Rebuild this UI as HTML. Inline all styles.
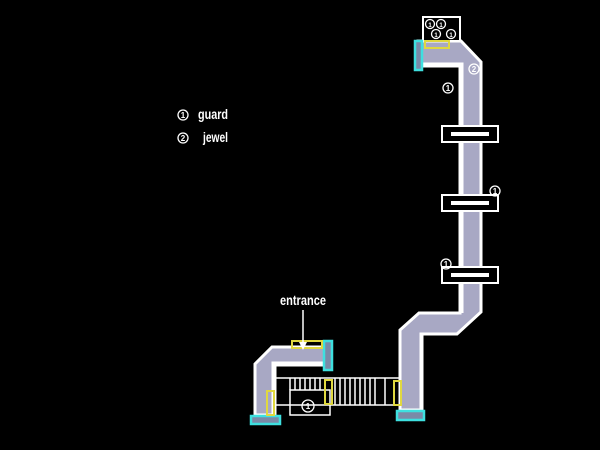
<!DOCTYPE html>
<html><head><style>html,body{margin:0;background:#000;width:600px;height:450px;overflow:hidden}</style></head><body>
<svg width="600" height="450" viewBox="0 0 600 450" xmlns="http://www.w3.org/2000/svg" font-family="Liberation Sans, sans-serif">
<rect width="600" height="450" fill="#000"/>
<g fill="#a8a8c4" stroke="#fff" stroke-width="3" stroke-linejoin="miter">
<polygon points="418,41 461,41 481,62 481,312 457,334 421,334 421,410 400,410 400,330 419,313 460,313 460,66 418,66"/>
<polygon points="272,347 325,347 325,365 275,365 275,415 255,415 255,364"/>
</g>
<!-- thicker inner white walls -->
<g fill="none" stroke="#fff" stroke-width="4">
<path d="M418,64.5 H461.5 V313 M421.5,410 V333"/>
<path d="M325,363.5 H273.5 V415"/>
</g>
<g fill="#000" stroke="#fff" stroke-width="2">
<rect x="442" y="126" width="56" height="16"/>
<rect x="442" y="195" width="56" height="16"/>
<rect x="442" y="267" width="56" height="16"/>
</g>
<g fill="#fff">
<rect x="451" y="132" width="38" height="4"/>
<rect x="451" y="201" width="38" height="4"/>
<rect x="451" y="273" width="38" height="4"/>
</g>
<rect x="423" y="17" width="37" height="24" fill="#000" stroke="#fff" stroke-width="2"/>
<g fill="none" stroke="#fff" stroke-width="1.5">
<rect x="275" y="378" width="125" height="27"/>
<rect x="290" y="390" width="40" height="25"/>
<path d="M290 378V390 M295 378V390 M300 378V390 M305 378V390 M310 378V390 M315 378V390 M320 378V390 M335 378V405 M340 378V405 M345 378V405 M350 378V405 M355 378V405 M360 378V405 M365 378V405 M370 378V405 M375 378V405 M385 378V405"/>
</g>
<g fill="#7a8aa8" stroke="#3ee0e0" stroke-width="2.5">
<rect x="251" y="416" width="29" height="8"/>
<rect x="324" y="341" width="8" height="29"/>
<rect x="397" y="411" width="27" height="9"/>
<rect x="415" y="41" width="7" height="29"/>
</g>
<g fill="none" stroke="#e0d840" stroke-width="2">
<rect x="292" y="341" width="30" height="7"/>
<rect x="267" y="391" width="7" height="24"/>
<rect x="325" y="380" width="7" height="24"/>
<rect x="394" y="381" width="7" height="24"/>
<rect x="425" y="41" width="24" height="7"/>
</g>
<g fill="none" stroke="#fff" stroke-width="1.3">
<circle cx="183" cy="115" r="5"/><circle cx="183" cy="138" r="5"/>
<circle cx="430" cy="24" r="4.5"/><circle cx="441" cy="24" r="4.5"/>
<circle cx="436" cy="34" r="4.5"/><circle cx="451" cy="34" r="4.5"/>
<circle cx="448" cy="88" r="5"/><circle cx="474" cy="69" r="5"/>
<circle cx="495" cy="191" r="5"/><circle cx="446" cy="264" r="5"/>
<circle cx="308" cy="406" r="6"/>
</g>
<g fill="#fff" font-size="8" font-weight="bold" text-anchor="middle">
<text x="183" y="118">1</text><text x="183" y="141">2</text>
<text x="430" y="27" font-size="6">1</text><text x="441" y="27" font-size="6">1</text>
<text x="436" y="37" font-size="6">1</text><text x="451" y="37" font-size="6">1</text>
<text x="448" y="91">1</text><text x="474" y="72">2</text>
<text x="495" y="194">1</text><text x="446" y="267">1</text>
<text x="308" y="409">1</text>
</g>
<g fill="#fff" font-size="14" font-weight="bold">
<text x="198" y="119" textLength="30" lengthAdjust="spacingAndGlyphs">guard</text>
<text x="203" y="142" textLength="25" lengthAdjust="spacingAndGlyphs">jewel</text>
<text x="280" y="305" textLength="46" lengthAdjust="spacingAndGlyphs">entrance</text>
</g>
<line x1="303" y1="310" x2="303" y2="345" stroke="#fff" stroke-width="1.5"/>
<polygon points="299,342 307,342 303,350" fill="#fff"/>
</svg>
</body></html>
